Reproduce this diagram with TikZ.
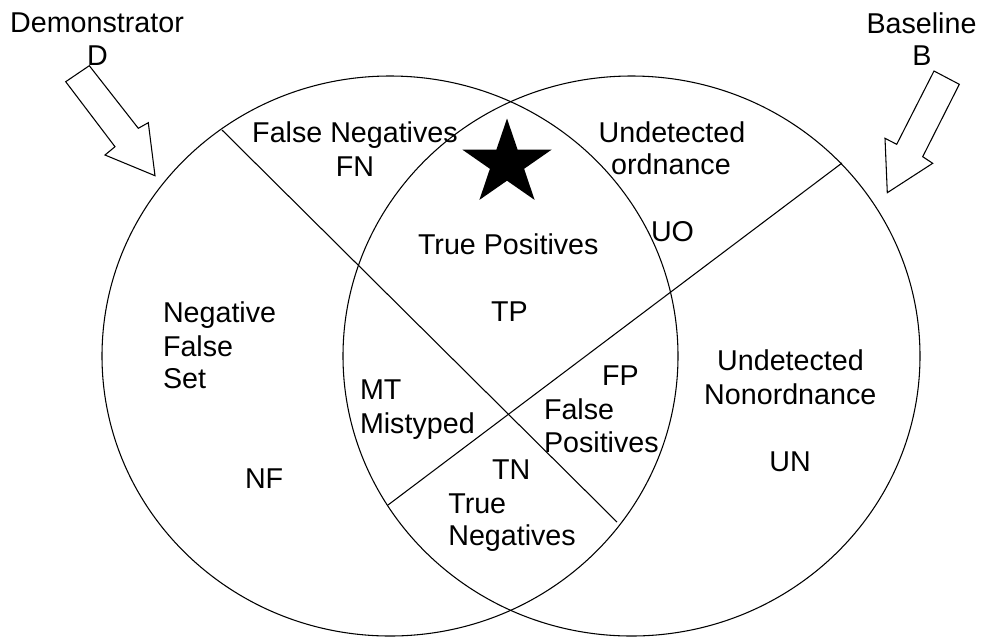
\documentclass[tikz,border=0pt]{standalone}
\usepackage{fontspec}
\setmainfont{Liberation Sans}
\begin{document}
\begin{tikzpicture}[x=0.75pt,y=-0.75pt,
  lbl/.style={inner sep=0pt,outer sep=0pt,font=\fontsize{21.5}{24.75}\selectfont},
  lw/.style={lbl,anchor=base west},
  lc/.style={lbl,anchor=base},
  edge/.style={draw=black,line width=0.8pt},
  blockarrow/.style={draw=black,line width=0.8pt,fill=white,line join=miter}]
\useasboundingbox (0,0) rectangle (981,637);
% sets
\path[edge] (390,356) ellipse [x radius=288, y radius=280];
\path[edge] (631.5,356) ellipse [x radius=288.5, y radius=280];
% chords
\coordinate (c1a) at (222,130);
\coordinate (c1b) at (617,522);
\coordinate (c2a) at (388,505);
\coordinate (c2b) at (842,163);
\draw[edge] (c1a) -- (c1b);
\draw[edge] (c2a) -- (c2b);
% block arrows
\draw[blockarrow] (89.3,65.7) -- (138.3,128.3) -- (148.3,122.7) -- (155,175.7) -- (105,155) -- (115,146.7) -- (65.7,81.7) -- cycle;
\draw[blockarrow] (934,71) -- (959.3,84.3) -- (922.7,156.7) -- (932.7,163.3) -- (887.3,192.7) -- (885,138.3) -- (896.7,144.3) -- cycle;
% star
\fill[black] (507,118.5) -- (517.6,149.6) -- (551.7,149.6) -- (524.1,168.8) -- (534.6,199.9) -- (507,180.7) -- (479.4,199.9) -- (489.9,168.8) -- (462.3,149.6) -- (496.4,149.6) -- cycle;
% labels
\node[lc] (demo) at (97,32) {Demonstrator};
\node[lc] (demoD) at (97.5,65) {D};
\node[lc] (base) at (921.5,33) {Baseline};
\node[lc] (baseB) at (922,65) {B};
\node[lc] (fn1) at (355,142.5) {False Negatives};
\node[lc] (fn2) at (355,176) {FN};
\node[lc] (uo1) at (672,142) {Undetected};
\node[lc] (uo2) at (671,174) {ordnance};
\node[lw] (uo3) at (651,241) {UO};
\node[lw] (tp1) at (418,254) {True Positives};
\node[lw] (tp2) at (491,321.7) {TP};
\node[lw] (nf1) at (163,322) {Negative};
\node[lw] (nf2) at (163,356) {False};
\node[lw] (nf3) at (163,388) {Set};
\node[lw] (nf4) at (245,488.3) {NF};
\node[lw] (mt1) at (360,399) {MT};
\node[lw] (mt2) at (360,433.5) {Mistyped};
\node[lw] (fp1) at (602,385.7) {FP};
\node[lw] (fp2) at (544,419) {False};
\node[lw] (fp3) at (544,452.7) {Positives};
\node[lw] (tn1) at (492,479.3) {TN};
\node[lw] (tn2) at (448.3,513.3) {True};
\node[lw] (tn3) at (448.3,545.7) {Negatives};
\node[lc] (un1) at (790.5,370.7) {Undetected};
\node[lc] (un2) at (790.3,404) {Nonordnance};
\node[lc] (un3) at (790,471.7) {UN};
\end{tikzpicture}
\end{document}
